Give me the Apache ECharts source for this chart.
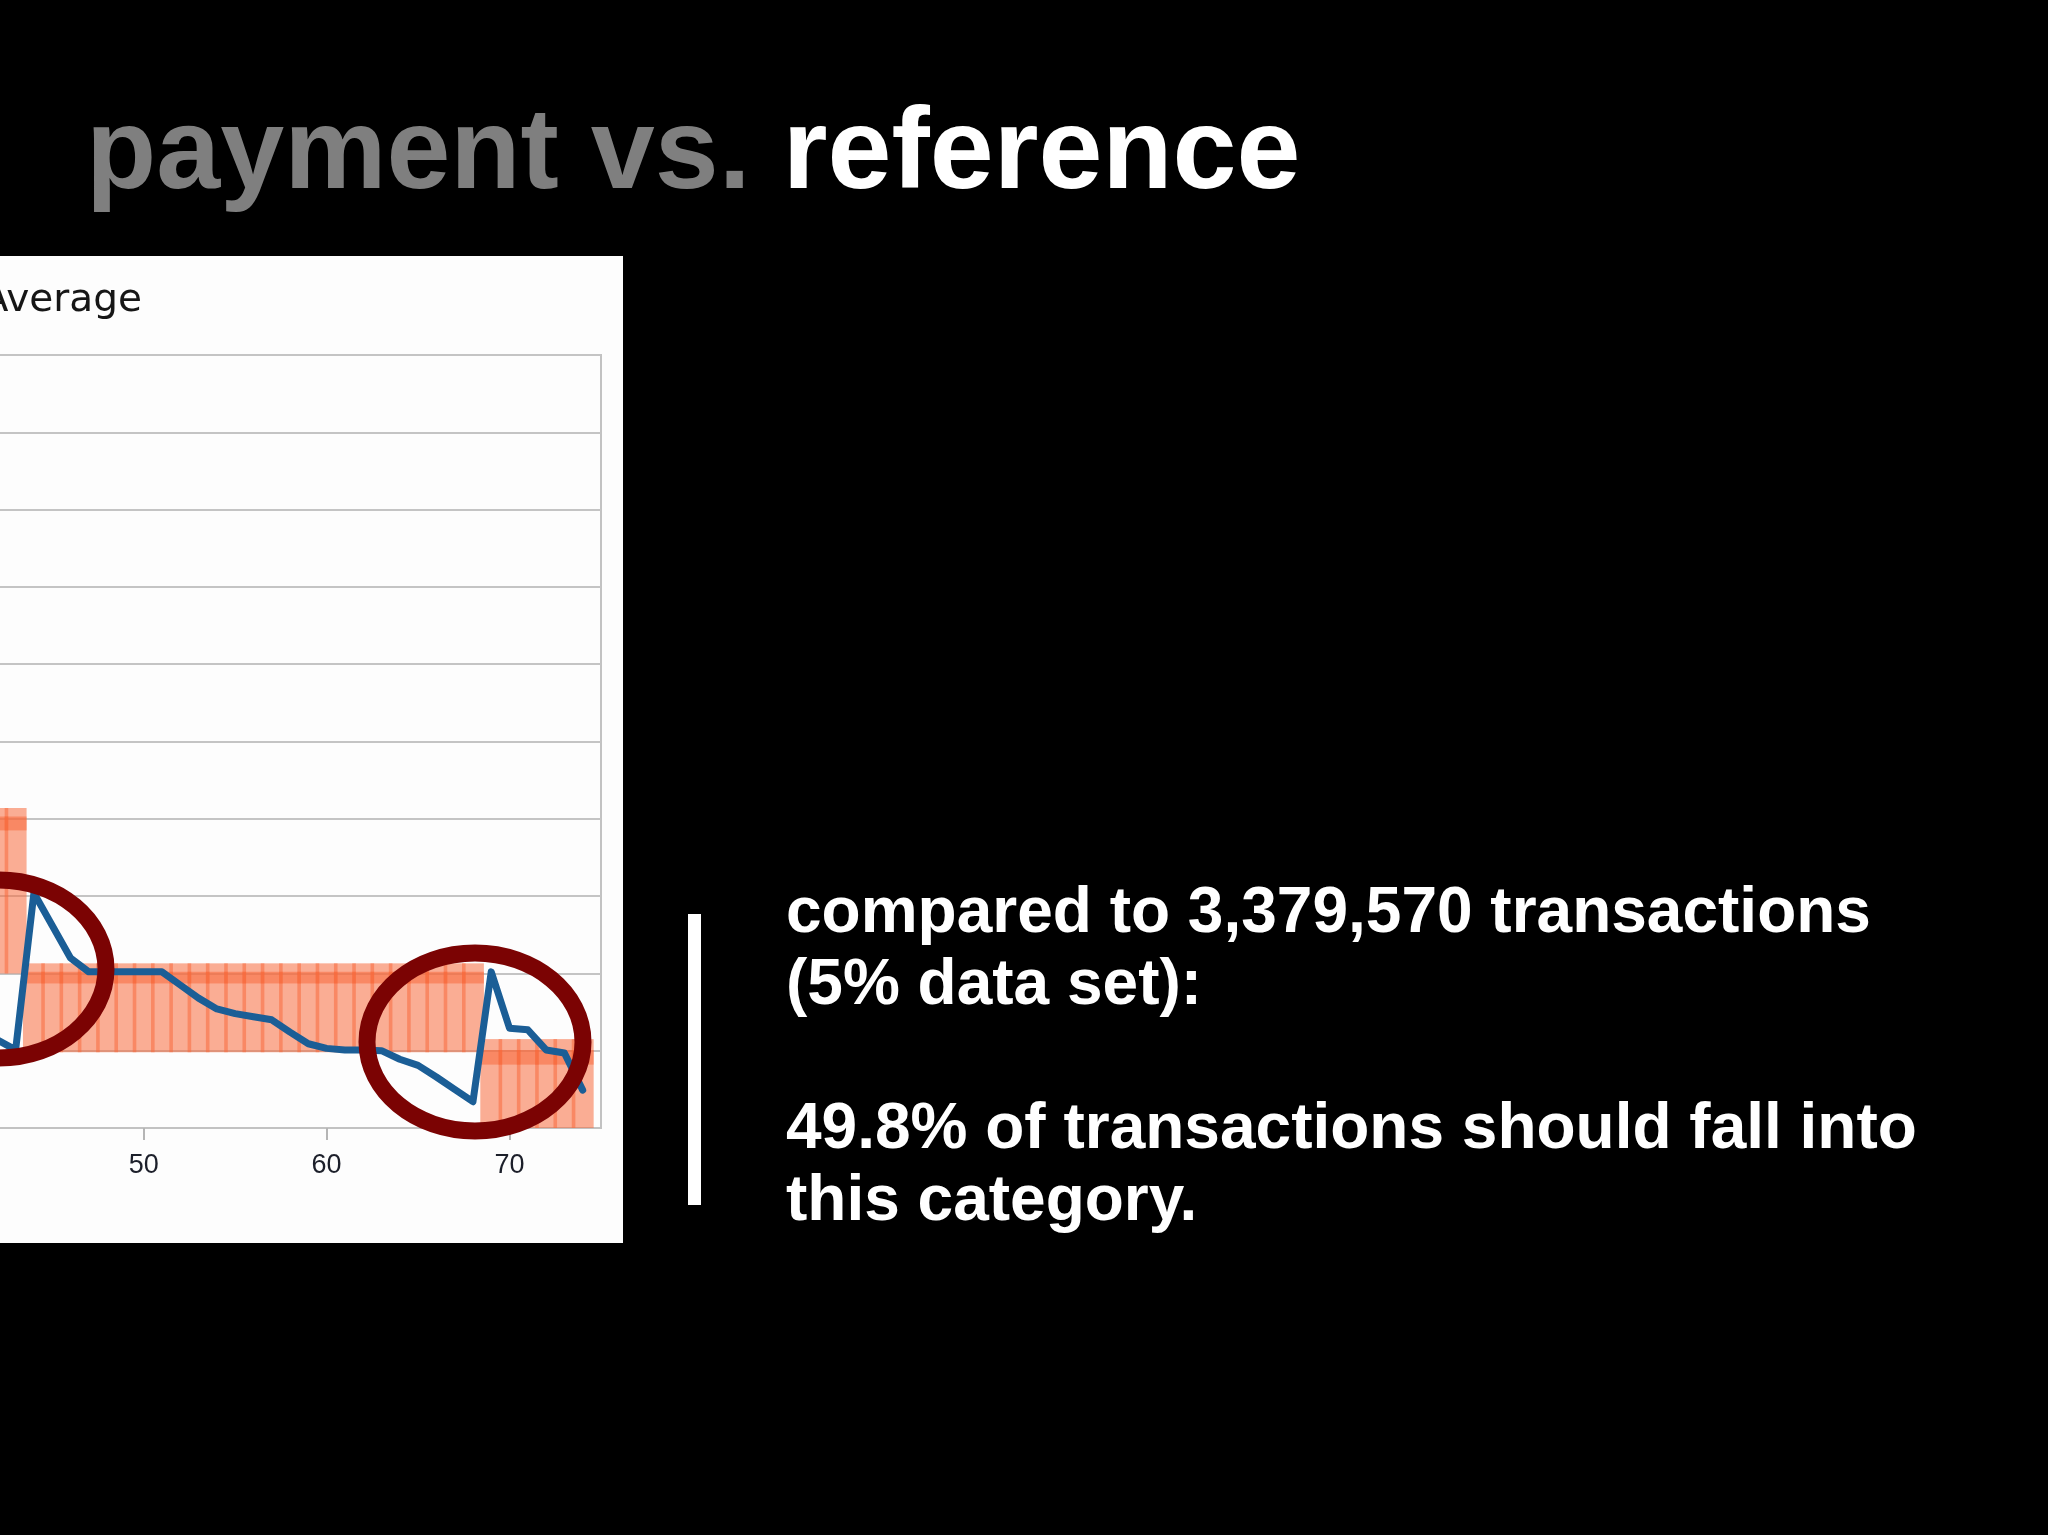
<!DOCTYPE html>
<html>
<head>
<meta charset="utf-8">
<title>payment vs. reference</title>
<script src="https://cdn.jsdelivr.net/npm/echarts@6/dist/echarts.min.js"></script>
<style>
  html, body { margin: 0; padding: 0; background: #000; overflow: hidden; }
  #wrap { position: relative; width: 2048px; height: 1535px; overflow: hidden; }
  /* the chart canvas starts left of the page: the slide shows only the right part of the plot */
  #chart { position: absolute; left: -900px; top: 0; width: 2948px; height: 1535px; }
</style>
</head>
<body>
<div id="wrap"><div id="chart"></div></div>
<script>
const OFFSET = 900

// x positions (only the right part of the original chart is visible on the slide)
const xs = [42, 43, 44, 45, 46, 47, 48, 49, 50, 51, 52, 53, 54, 55, 56, 57, 58,
  59, 60, 61, 62, 63, 64, 65, 66, 67, 68, 69, 70, 71, 72, 73, 74]

// reference range bars (body)
const bodyLow = [20, 20, 9.8, 9.8, 9.8, 9.8, 9.8, 9.8, 9.8, 9.8, 9.8, 9.8, 9.8, 9.8, 9.8, 9.8, 9.8,
  9.8, 9.8, 9.8, 9.8, 9.8, 9.8, 9.8, 9.8, 9.8, 9.8, 0, 0, 0, 0, 0, 0]
const bodyHigh = [40.3, 40.3, 20.2, 20.2, 20.2, 20.2, 20.2, 20.2, 20.2, 20.2, 20.2, 20.2, 20.2, 20.2, 20.2, 20.2, 20.2,
  20.2, 20.2, 20.2, 20.2, 20.2, 20.2, 20.2, 20.2, 20.2, 20.2, 10.1, 10.1, 10.1, 10.1, 10.1, 10.1]

// upper band bars (cap)
const capLow = [38.5, 38.5, 18.7, 18.7, 18.7, 18.7, 18.7, 18.7, 18.7, 18.7, 18.7, 18.7, 18.7, 18.7, 18.7, 18.7, 18.7,
  18.7, 18.7, 18.7, 18.7, 18.7, 18.7, 18.7, 18.7, 18.7, 18.7, 8.2, 8.2, 8.2, 8.2, 8.2, 8.2]
const capHigh = [41.4, 41.4, 21.3, 21.3, 21.3, 21.3, 21.3, 21.3, 21.3, 21.3, 21.3, 21.3, 21.3, 21.3, 21.3, 21.3, 21.3,
  21.3, 21.3, 21.3, 21.3, 21.3, 21.3, 21.3, 21.3, 21.3, 21.3, 11.5, 11.5, 11.5, 11.5, 11.5, 11.5]

// moving average line
const average = [11.4, 10.1, 30.4, 26.2, 22.0, 20.2, 20.2, 20.2, 20.2, 20.2, 18.5, 16.8, 15.4, 14.8, 14.4, 14.0, 12.4,
  10.9, 10.3, 10.1, 10.1, 10.0, 8.9, 8.1, 6.6, 5.0, 3.4, 20.2, 12.9, 12.7, 10.1, 9.7, 4.9]

const xTicks = [0, 10, 20, 30, 40, 50, 60, 70]

const titleGray = 'payment vs.'
const titleWhite = 'reference'
const bodyText = 'compared to 3,379,570 transactions\n(5% data set):\n\n49.8% of transactions should fall into\nthis category.'

const BAR_FILL = 'rgba(248,105,60,0.54)'

const rangeSeries = (name, lows, highs) => ({
  type: 'custom',
  name: name,
  clip: true,
  z: 2,
  data: xs.map((x, i) => [x, lows[i], highs[i]]),
  encode: { x: 0, y: [1, 2] },
  renderItem: (params, api) => {
    const x = api.value(0)
    const a = api.coord([x - 0.5, api.value(2)])
    const b = api.coord([x + 0.5, api.value(1)])
    const pad = 1.8
    return {
      type: 'rect',
      shape: { x: a[0] - pad, y: a[1], width: b[0] - a[0] + pad * 2, height: b[1] - a[1] },
      style: { fill: BAR_FILL }
    }
  }
})

const chart = echarts.init(document.getElementById('chart'))
chart.setOption({
  backgroundColor: '#000',
  animation: false,
  grid: {
    left: OFFSET - 771, right: 1447, top: 355, bottom: 407,
    show: true, borderColor: '#c2c2c2', borderWidth: 2
  },
  xAxis: {
    type: 'value', min: 0, max: 75, interval: 10,
    axisLine: { show: true, lineStyle: { color: '#c2c2c2', width: 2 } },
    axisTick: { show: true, length: 12, customValues: xTicks, lineStyle: { color: '#b5b5b5', width: 2 } },
    axisLabel: { fontSize: 27, color: '#1c1f2a', margin: 24, fontFamily: 'Liberation Sans', customValues: xTicks },
    splitLine: { show: false }
  },
  yAxis: {
    type: 'value', min: 0, max: 100, interval: 10,
    axisLine: { show: false },
    axisTick: { show: false },
    axisLabel: { show: false },
    splitLine: { lineStyle: { color: '#c4c4c4', width: 2 } }
  },
  series: [
    rangeSeries('reference', bodyLow, bodyHigh),
    rangeSeries('band', capLow, capHigh),
    {
      type: 'line', name: 'average', z: 5,
      data: xs.map((x, i) => [x, average[i]]),
      showSymbol: false,
      lineStyle: { color: '#1b5e96', width: 7, join: 'round', cap: 'round' }
    }
  ],
  graphic: [
    // white panel behind the chart image
    { type: 'rect', z: -10, shape: { x: 0, y: 256, width: OFFSET + 623, height: 987 }, style: { fill: '#fdfdfd' } },
    {
      type: 'text', x: OFFSET + 142, y: 301, z: 10,
      style: { text: 'Average', font: '39px "DejaVu Sans"', fill: '#161616', textAlign: 'right', textVerticalAlign: 'middle' }
    },
    // highlight ellipses
    { type: 'ellipse', z: 100, shape: { cx: OFFSET - 1, cy: 969, rx: 107, ry: 89 },
      style: { fill: 'transparent', stroke: '#7b0303', lineWidth: 17 } },
    { type: 'ellipse', z: 100, shape: { cx: OFFSET + 475, cy: 1042, rx: 108, ry: 89 },
      style: { fill: 'transparent', stroke: '#7b0303', lineWidth: 17 } },
    // title
    {
      type: 'text', x: OFFSET + 86, y: 156, z: 10,
      style: {
        text: '{g|' + titleGray + '} {w|' + titleWhite + '}',
        textVerticalAlign: 'middle',
        rich: {
          g: { fontSize: 115, fontWeight: 'bold', fontFamily: 'Liberation Sans', fill: '#7f7f7f' },
          w: { fontSize: 115, fontWeight: 'bold', fontFamily: 'Liberation Sans', fill: '#fff' }
        },
        font: 'bold 115px "Liberation Sans"', fill: '#fff'
      }
    },
    // quote bar and text
    { type: 'rect', z: 10, shape: { x: OFFSET + 688, y: 914, width: 13, height: 291 }, style: { fill: '#fff' } },
    {
      type: 'text', x: OFFSET + 786, y: 878, z: 10,
      style: {
        text: bodyText, font: 'bold 64px "Liberation Sans"', fill: '#fff',
        lineHeight: 72, textVerticalAlign: 'top'
      }
    }
  ]
})
</script>
</body>
</html>
